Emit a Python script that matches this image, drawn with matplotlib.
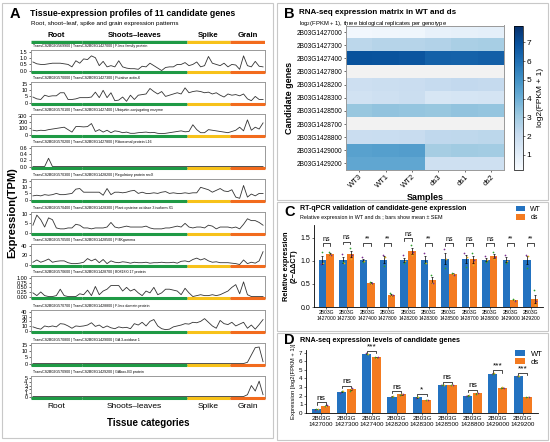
import numpy as np
import matplotlib
matplotlib.use('Agg')
import matplotlib.pyplot as plt
from matplotlib.patches import Rectangle
from matplotlib.ticker import FormatStrFormatter

plt.rcParams['font.family'] = ['Liberation Sans', 'DejaVu Sans']

# ---------------- data ----------------
tissue_groups = ['Root', 'Shoots\u2013leaves', 'Spike', 'Grain']
group_sizes = [13, 27, 11, 9]
group_colors = ['#1f9a45', '#1f9a45', '#f7c21a', '#f26b1d']

ids_2b02 = ['569900', '570000', '570100', '570200', '570300', '570400',
            '570500', '570600', '570700', '570800', '570900']
ids_2b03 = ['1427000', '1427300', '1427400', '1427800', '1428200', '1428300',
            '1428500', '1428700', '1428800', '1429000', '1429200']
gene_desc = ['F-box family protein', 'Putative actin-6', 'Ubiquitin-conjugating enzyme',
             'Ribosomal protein L16', 'Regulatory protein recX',
             'Plant cysteine oxidase 3 isoform X1', 'PI4Kgamma', 'B0818I0.17 protein',
             'F-box domain protein', 'GA 3-oxidase 1', 'GAbox-B3 protein']

tpm_fbox = [0.70, 0.55, 0.50, 0.50, 0.55, 0.60, 0.60, 0.60, 0.55, 0.50, 0.30, 0.80, 0.60,
            0.95, 0.90, 1.20, 1.05, 0.40, 0.75, 0.30, 0.40, 0.30, 0.80, 0.30, 0.20, 0.15, 0.15,
            0.10, 0.35, 0.30, 0.60, 0.40, 0.20, 0.00, 0.25, 0.30, 0.30, 0.50, 0.50, 0.65,
            0.40, 0.50, 0.70, 0.30, 0.40, 1.15, 0.60, 0.50, 0.40, 0.60, 0.30,
            0.50, 0.45, 0.10, 1.20, 0.40, 0.30, 0.75, 0.35, 0.30]
tpm_actin = [4.5, 3.0, 2.5, 6.0, 5.0, 5.5, 5.5, 8.0, 8.0, 2.5, 2.5, 3.0, 4.0,
             4.0, 4.0, 4.5, 8.5, 4.0, 10.0, 4.0, 8.0, 1.5, 2.0, 4.5, 1.0, 6.0, 2.5,
             6.0, 6.5, 7.0, 11.5, 9.0, 7.0, 9.0, 5.0, 6.0, 7.0, 8.0, 7.0, 12.0,
             8.0, 9.0, 9.5, 9.0, 8.0, 8.5, 7.0, 8.0, 6.0, 4.5, 7.0,
             6.0, 6.5, 5.5, 7.0, 3.0, 1.5, 5.0, 2.5, 2.5]
tpm_ubq = [70, 60, 70, 65, 80, 90, 100, 110, 120, 80, 40, 130, 130,
           125, 130, 180, 50, 80, 40, 70, 30, 60, 50, 30, 40, 20, 20,
           30, 35, 40, 30, 35, 20, 15, 20, 30, 40, 50, 60, 45,
           50, 160, 80, 30, 30, 80, 70, 60, 50, 40, 30,
           50, 70, 120, 60, 240, 70, 120, 90, 190]
tpm_rpl16 = [0.0, 0.0, 0.0, 0.0, 0.27, 0.0, 0.0, 0.0, 0.0, 0.0, 0.0, 0.0, 0.0,
             0.0, 0.0, 0.0, 0.0, 0.0, 0.0, 0.0, 0.0, 0.0, 0.0, 0.0, 0.0, 0.0, 0.0,
             0.0, 0.0, 0.0, 0.0, 0.0, 0.0, 0.0, 0.0, 0.0, 0.0, 0.0, 0.0, 0.0,
             0.0, 0.0, 0.0, 0.0, 0.0, 0.0, 0.0, 0.0, 0.0, 0.0, 0.0,
             0.0, 0.0, 0.0, 0.0, 0.0, 0.0, 0.0, 0.0, 0.0]
tpm_recx = [3.0, 3.5, 3.0, 4.0, 3.5, 4.0, 5.0, 4.0, 4.0, 4.5, 5.0, 8.5, 9.0,
            6.0, 6.0, 6.0, 6.0, 6.0, 3.5, 9.0, 4.0, 6.0, 6.0, 5.5, 6.0, 7.0, 7.5,
            5.0, 6.0, 5.0, 5.0, 5.5, 5.0, 6.0, 6.5, 5.0, 5.5, 5.0, 5.0, 5.5,
            5.0, 5.5, 5.5, 10.0, 9.0, 8.0, 6.0, 7.5, 9.0, 7.0, 6.5,
            8.0, 2.0, 1.0, 11.5, 2.0, 4.5, 3.0, 5.0, 5.0]
tpm_pco = [4.0, 9.5, 7.0, 3.0, 8.0, 7.0, 2.5, 2.0, 2.0, 2.5, 2.5, 4.5, 4.0,
           2.5, 2.5, 2.0, 2.5, 2.5, 2.5, 3.0, 5.5, 3.0, 2.5, 3.0, 3.5, 3.0, 3.0,
           3.0, 3.0, 3.5, 2.5, 2.0, 2.0, 2.0, 2.5, 2.5, 3.0, 3.5, 3.0, 5.0,
           3.0, 2.5, 3.0, 3.0, 2.5, 4.0, 3.5, 2.0, 3.0, 3.0, 3.0,
           2.5, 3.0, 2.0, 4.5, 7.5, 6.5, 6.5, 5.5, 4.0]
tpm_pi4k = [5, 10, 5, 8, 12, 5, 7, 8, 8, 4, 2, 2, 3,
            5, 13, 8, 12, 4, 11, 2, 8, 5, 4, 6, 5, 3, 5,
            4, 4, 5, 3, 4, 4, 5, 4, 4, 5, 3, 7, 8,
            6, 11, 14, 10, 13, 8, 5, 6, 4, 4, 4,
            3, 2, 0, 10, 2, 5, 3, 8, 28]
tpm_b0818 = [0.20, 0.05, 0.25, 0.05, 0.00, 0.00, 0.05, 0.40, 0.05, 0.00, 0.00, 0.00, 0.15,
             0.10, 0.35, 0.05, 0.55, 0.10, 0.30, 0.40, 0.60, 0.60, 0.60, 0.30, 0.50, 0.30, 0.40,
             0.20, 0.05, 0.30, 0.20, 0.50, 0.10, 0.20, 0.40, 0.40, 0.35, 0.30, 0.10, 0.45,
             0.20, 0.00, 0.05, 0.10, 0.05, 0.05, 0.10, 0.05, 0.10, 0.20, 0.30,
             0.50, 0.65, 0.15, 0.80, 0.10, 0.00, 0.00, 0.00, 0.00]
tpm_fboxd = [8, 5, 3, 10, 8, 10, 8, 15, 14, 10, 5, 10, 9,
             10, 12, 17, 9, 12, 6, 10, 6, 4, 8, 6, 7, 4, 15,
             12, 18, 10, 20, 24, 10, 4, 2, 3, 8, 10, 12, 15,
             14, 18, 17, 20, 26, 18, 10, 5, 22, 15, 13,
             18, 10, 14, 18, 5, 12, 3, 13, 24]
tpm_ga3ox = [0, 0, 0, 0, 0, 0, 0, 0, 0, 0, 0, 0, 0,
             0, 0, 0, 0, 0, 0, 0, 0, 0, 0, 0, 0, 0, 0,
             0, 0, 0, 0, 0, 0, 0, 0, 0, 0, 0, 0, 0,
             0, 0, 0, 0, 0, 0, 0, 0, 0, 0, 0,
             0, 0, 0, 0, 1.0, 7.0, 13.0, 13.5, 1.5]
tpm_gabox = [0, 0, 0, 0, 0, 0, 0, 0, 0, 0, 0, 0, 0,
             0, 0, 0, 0, 0, 0, 0, 0, 0, 0, 0, 0, 0, 0,
             0, 0, 0, 0, 0, 0, 0, 0, 0, 0, 0, 0, 0,
             0, 0, 0, 0, 0, 0, 0, 0, 0, 0, 0,
             0, 0, 0, 0, 0.5, 3.0, 1.5, 4.2, 0.5]
tpm_series = [tpm_fbox, tpm_actin, tpm_ubq, tpm_rpl16, tpm_recx, tpm_pco,
              tpm_pi4k, tpm_b0818, tpm_fboxd, tpm_ga3ox, tpm_gabox]
tpm_top = [1.5, 15, 300, 0.6, 15, 10, 40, 1.0, 40, 15, 5]
tpm_step = [0.5, 5, 100, 0.2, 5, 5, 20, 0.25, 10, 5, 1]
tpm_fmt = ['%.1f', '%d', '%d', '%.1f', '%d', '%d', '%d', '%.2f', '%d', '%d', '%d']

# heatmap, log2(FPKM+1)
samples = ['WT3', 'WT1', 'WT2', 'ds3', 'ds1', 'ds2']
hm_genes = ['2B03G' + g for g in ids_2b03]
log_fpkm = np.array([
    [0.40, 0.45, 0.50, 0.80, 0.85, 0.90],
    [2.35, 2.50, 2.50, 2.60, 2.80, 2.85],
    [6.90, 6.85, 6.80, 6.45, 6.40, 6.50],
    [0.00, 0.00, 0.00, 0.00, 0.00, 0.00],
    [1.85, 1.90, 1.95, 2.10, 2.20, 2.15],
    [1.70, 1.80, 1.90, 1.45, 1.50, 1.55],
    [3.20, 3.30, 3.25, 3.20, 3.30, 3.25],
    [0.00, 0.00, 0.00, 0.00, 0.00, 0.00],
    [1.95, 2.00, 2.05, 2.25, 2.30, 2.35],
    [4.50, 4.55, 4.60, 2.90, 3.00, 2.95],
    [4.30, 4.30, 4.30, 1.80, 1.80, 1.80],
])

# RT-qPCR relative expression (three replicates)
qpcr_wt = [[0.93, 1.20, 0.95], [1.15, 0.97, 0.95], [1.08, 0.98, 1.00], [1.12, 0.88, 1.08],
           [1.12, 0.95, 1.00], [1.17, 0.95, 0.96], [1.25, 0.85, 1.05], [1.18, 0.87, 1.08],
           [1.10, 0.97, 1.02], [1.13, 0.95, 1.00], [1.13, 0.85, 1.10]]
qpcr_ds = [[1.20, 1.12, 1.13], [1.28, 1.05, 1.12], [0.55, 0.50, 0.52], [0.30, 0.24, 0.25],
           [1.35, 1.12, 1.20], [0.70, 0.53, 0.52], [0.74, 0.72, 0.70], [1.18, 0.92, 1.02],
           [1.20, 1.05, 1.08], [0.17, 0.15, 0.14], [0.36, 0.05, 0.12]]
qpcr_sig = ['ns', 'ns', '**', '**', 'ns', '**', 'ns', 'ns', 'ns', '**', '**']

# RNA-seq bar chart genes (rows of heatmap)
rnaseq_rows = [0, 1, 2, 4, 5, 6, 8, 9, 10]
rnaseq_sig = ['ns', 'ns', '***', 'ns', '*', 'ns', 'ns', '***', '***']

W, H = 550, 442
fig = plt.figure(figsize=(5.5, 4.42), dpi=100)


def rect(l, t, r, b):
    return [l / W, 1 - b / H, (r - l) / W, (b - t) / H]


def ftext(x, y, s, **kw):
    fig.text(x / W, 1 - y / H, s, **kw)


for l, t, r, b in [(2, 3, 273, 438), (277, 3, 548, 200), (277, 202, 548, 331), (277, 333, 548, 440)]:
    fig.add_artist(Rectangle((l / W, 1 - b / H), (r - l) / W, (b - t) / H,
                             transform=fig.transFigure, fill=False, ec='#c8c8c8', lw=0.8))

# ---------------- panel A ----------------
n_pts = sum(group_sizes)
bounds = np.concatenate([[0], np.cumsum(group_sizes)]) - 0.5
xs = np.arange(n_pts)
x_lim = (-0.5, n_pts - 0.5)

ftext(10, 14, 'A', fontsize=10.5, fontweight='bold', va='center')
ftext(30, 14, 'Tissue-expression profiles of 11 candidate genes', fontsize=6.3,
      fontweight='bold', va='center')
ftext(31, 24, 'Root, shoot\u2013leaf, spike and grain expression patterns', fontsize=4.5, va='center')

top_ax = fig.add_axes(rect(31, 28, 265, 44))
top_ax.set_xlim(x_lim)
top_ax.set_ylim(0, 1)
top_ax.axis('off')
for i, name in enumerate(tissue_groups):
    top_ax.plot([bounds[i], bounds[i + 1]], [0.1, 0.1], color=group_colors[i], lw=2.4,
                solid_capstyle='butt')
    top_ax.text((bounds[i] + bounds[i + 1]) / 2, 0.55, name, ha='center', va='center',
                fontsize=5.6, fontweight='bold')

tops = [50, 82, 114, 146, 179, 212, 244, 276, 310, 343, 376]
for k, y in enumerate(tpm_series):
    t = tops[k]
    ax = fig.add_axes(rect(31, t, 265, t + 22))
    ax.plot(xs, y, color='#333333', lw=0.6)
    T = tpm_top[k]
    ax.set_xlim(x_lim)
    ax.set_ylim(-0.08 * T, 1.12 * T)
    ax.set_yticks(np.arange(0, T + tpm_step[k] / 2, tpm_step[k]))
    ax.yaxis.set_major_formatter(FormatStrFormatter(tpm_fmt[k]))
    ax.set_xticks([])
    ax.tick_params(axis='y', labelsize=4, length=1.5, width=0.4, pad=1)
    for sp in ax.spines.values():
        sp.set_color('#999999')
        sp.set_linewidth(0.7)
    for i in range(len(tissue_groups)):
        ax.plot([bounds[i], bounds[i + 1]], [0, 0], transform=ax.get_xaxis_transform(),
                color=group_colors[i], lw=2.2, solid_capstyle='butt', clip_on=False, zorder=5)
    ftext(33, t - 3.5, 'TraesCS2B02G%s | TraesCS2B03G%s | %s' % (ids_2b02[k], ids_2b03[k], gene_desc[k]),
          fontsize=2.6, va='center')

bot_ax = fig.add_axes(rect(31, 400, 265, 414))
bot_ax.set_xlim(x_lim)
bot_ax.set_ylim(0, 1)
bot_ax.axis('off')
for i, name in enumerate(tissue_groups):
    bot_ax.text((bounds[i] + bounds[i + 1]) / 2, 0.5, name, ha='center', va='center', fontsize=6)
ftext(148, 423, 'Tissue categories', fontsize=7, fontweight='bold', ha='center', va='center')
ftext(12, 213, 'Expression(TPM)', fontsize=8, fontweight='bold', rotation=90, ha='center', va='center')

# ---------------- panel B ----------------
ftext(284, 14, 'B', fontsize=10.5, fontweight='bold', va='center')
ftext(299, 13, 'RNA-seq expression matrix in WT and ds', fontsize=5.8, fontweight='bold', va='center')
ftext(299, 23, 'log$_2$(FPKM + 1), three biological replicates per genotype', fontsize=4.2, va='center')

hm = fig.add_axes(rect(346, 25.5, 504, 170))
cmap = plt.get_cmap('Blues').copy()
cmap.set_under('#f2f2f2')
im = hm.imshow(log_fpkm, cmap=cmap, vmin=0.2, vmax=7.9, aspect='auto')
hm.set_xticks(range(len(samples)))
hm.set_xticklabels(samples, rotation=45, ha='right', rotation_mode='anchor', fontsize=5.5)
hm.set_yticks(range(len(hm_genes)))
hm.set_yticklabels(hm_genes, fontsize=4.7)
hm.tick_params(length=1.5, width=0.4, pad=1)
hm.set_xlabel('Samples', fontsize=6.5, fontweight='bold', labelpad=2)
hm.set_ylabel('Candidate genes', fontsize=6.5, fontweight='bold', labelpad=2)
for sp in hm.spines.values():
    sp.set_color('#999999')
    sp.set_linewidth(0.7)
cax = fig.add_axes(rect(514, 25.5, 523, 170))
cb = fig.colorbar(im, cax=cax, ticks=range(1, 8))
cb.ax.tick_params(labelsize=6, length=1.5, width=0.4, pad=1)
cb.set_label('log2(FPKM + 1)', fontsize=6)
cb.outline.set_linewidth(0.5)

blue = '#2372c0'
orange = '#f47b20'
dot_colors = ['#7b2d8e', '#2ca02c', '#e0b020']


def bracket(ax, x0, x1, y, d, label, fs):
    ax.plot([x0, x0, x1, x1], [y - d, y, y, y - d], color='black', lw=0.5)
    ax.text((x0 + x1) / 2, y + d * 0.3, label, ha='center', va='bottom', fontsize=fs)


def bar_panel(ax, wt_reps, ds_reps, sig, fs, d, gap, floor):
    n = len(wt_reps)
    x = np.arange(n)
    wt = np.array(wt_reps)
    ds = np.array(ds_reps)
    w_mean, d_mean = wt.mean(1), ds.mean(1)
    w_sem, d_sem = wt.std(1, ddof=1) / np.sqrt(3), ds.std(1, ddof=1) / np.sqrt(3)
    bw = 0.36
    ax.bar(x - bw / 2 - 0.01, w_mean, bw, color=blue, label='WT', zorder=2)
    ax.bar(x + bw / 2 + 0.01, d_mean, bw, color=orange, label='ds', zorder=2)
    ax.errorbar(x - bw / 2 - 0.01, w_mean, yerr=w_sem, fmt='none', ecolor='black',
                elinewidth=0.5, capsize=1, capthick=0.5, zorder=3)
    ax.errorbar(x + bw / 2 + 0.01, d_mean, yerr=d_sem, fmt='none', ecolor='black',
                elinewidth=0.5, capsize=1, capthick=0.5, zorder=3)
    offs = [-0.05, 0.0, 0.05]
    for j in range(3):
        ax.scatter(x - bw / 2 - 0.01 + offs[j], wt[:, j], s=1.5, color=dot_colors[j], zorder=4, lw=0)
        ax.scatter(x + bw / 2 + 0.01 + offs[j], ds[:, j], s=1.5, color=dot_colors[(j + 1) % 3], zorder=4, lw=0)
    for i in range(n):
        top = max(w_mean[i] + w_sem[i], d_mean[i] + d_sem[i])
        bracket(ax, x[i] - bw / 2, x[i] + bw / 2, max(floor, top + gap), d, sig[i], fs)
    ax.set_xticks(x)
    ax.set_xlim(-0.6, n - 0.4)
    for s in ['top', 'right']:
        ax.spines[s].set_visible(False)
    for s in ['left', 'bottom']:
        ax.spines[s].set_linewidth(0.6)


# ---------------- panel C ----------------
ftext(284, 212, 'C', fontsize=10.5, fontweight='bold', va='center')
ftext(300, 208, 'RT-qPCR validation of candidate-gene expression', fontsize=5.0, fontweight='bold', va='center')
ftext(300, 218, 'Relative expression in WT and ds ; bars show mean \u00b1 SEM', fontsize=3.9, va='center')
axc = fig.add_axes(rect(314, 225, 543, 307))
bar_panel(axc, qpcr_wt, qpcr_ds, qpcr_sig, 5, 0.05, 0.2, 1.38)
axc.set_ylim(0, 1.78)
axc.set_yticks([0, 0.5, 1.0, 1.5])
axc.yaxis.set_major_formatter(FormatStrFormatter('%.1f'))
axc.set_xticklabels(['2B03G\n' + g for g in ids_2b03], fontsize=3.6)
axc.tick_params(labelsize=5, length=1.5, width=0.4, pad=1)
axc.tick_params(axis='x', labelsize=3.6)
axc.set_ylabel('Relative expression\n(2\u2212\u0394\u0394CT)', fontsize=5.3, fontweight='bold', labelpad=2)
axc.legend(loc='upper right', bbox_to_anchor=(546 / W, 1 - 201 / H), bbox_transform=fig.transFigure,
           fontsize=5, frameon=False, handlelength=1.3, handleheight=0.8, borderpad=0.2, labelspacing=0.2)

# ---------------- panel D ----------------
ftext(284, 340, 'D', fontsize=10.5, fontweight='bold', va='center')
ftext(300, 340, 'RNA-seq expression levels of candidate genes', fontsize=5.2, fontweight='bold', va='center')
axd = fig.add_axes(rect(306, 350, 538, 413))
bar_panel(axd, [list(log_fpkm[r, :3]) for r in rnaseq_rows],
          [list(log_fpkm[r, 3:]) for r in rnaseq_rows], rnaseq_sig, 6, 0.25, 0.35, 0)
axd.set_ylim(0, 7.3)
axd.set_yticks(range(0, 8))
axd.set_xticklabels(['2B03G\n' + ids_2b03[r] for r in rnaseq_rows], fontsize=4.5)
axd.tick_params(labelsize=4.5, length=1.5, width=0.4, pad=1)
axd.set_ylabel('Expression [log2(FPKM + 1)]', fontsize=4.2, labelpad=2)
axd.legend(loc='upper right', bbox_to_anchor=(548 / W, 1 - 345 / H), bbox_transform=fig.transFigure,
           fontsize=5.5, frameon=False, handlelength=1.3, handleheight=0.7, borderpad=0.2, labelspacing=0.1)

fig.savefig('out.png', dpi=100)
